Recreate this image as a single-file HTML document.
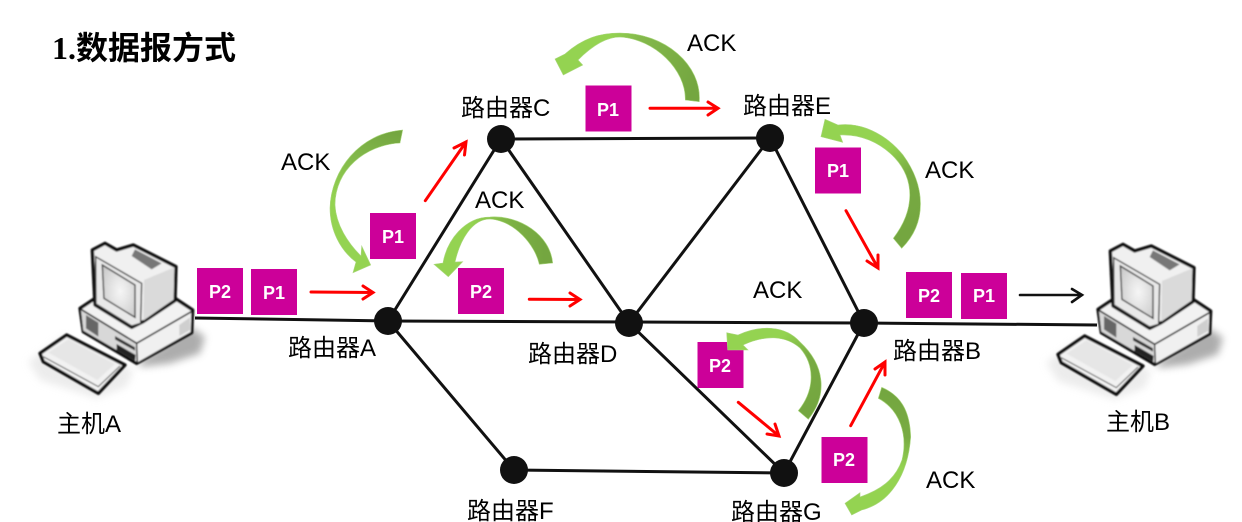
<!DOCTYPE html>
<html><head><meta charset="utf-8"><style>
html,body{margin:0;padding:0;background:#fff}
svg{display:block}
text{font-family:"Liberation Sans","Noto Sans CJK SC",sans-serif;fill:#000}
.l{font-size:24px}
.p{font-size:18px;font-weight:bold;fill:#fff;text-anchor:middle}
.k{stroke:#111;stroke-width:3;fill:none}
.r{stroke:#f00;stroke-width:3;fill:none}
.g{stroke:#a9d67c;stroke-width:.6}
</style></head><body>
<svg width="1242" height="522" viewBox="0 0 1242 522" xmlns="http://www.w3.org/2000/svg">
<defs>
<linearGradient id="g1" gradientUnits="userSpaceOnUse" x1="690" y1="100" x2="560" y2="50"><stop offset="0" stop-color="#74a640"/><stop offset=".5" stop-color="#84b94c"/><stop offset=".7" stop-color="#94d351"/></linearGradient>
<linearGradient id="g2" gradientUnits="userSpaceOnUse" x1="900" y1="240" x2="830" y2="130"><stop offset="0" stop-color="#74a640"/><stop offset=".4" stop-color="#78ab42"/><stop offset=".65" stop-color="#94d351"/></linearGradient>
<linearGradient id="g3" gradientUnits="userSpaceOnUse" x1="805" y1="415" x2="735" y2="335"><stop offset="0" stop-color="#74a640"/><stop offset=".4" stop-color="#78ab42"/><stop offset=".7" stop-color="#94d351"/></linearGradient>
<linearGradient id="g4" gradientUnits="userSpaceOnUse" x1="880" y1="390" x2="860" y2="510"><stop offset="0" stop-color="#74a640"/><stop offset=".35" stop-color="#78ab42"/><stop offset=".6" stop-color="#94d351"/></linearGradient>
<linearGradient id="g5" gradientUnits="userSpaceOnUse" x1="400" y1="135" x2="360" y2="265"><stop offset="0" stop-color="#74a640"/><stop offset=".25" stop-color="#82b84a"/><stop offset=".6" stop-color="#94d351"/></linearGradient>
<linearGradient id="g6" gradientUnits="userSpaceOnUse" x1="545" y1="262" x2="440" y2="262"><stop offset="0" stop-color="#74a640"/><stop offset=".3" stop-color="#7cb044"/><stop offset=".7" stop-color="#94d351"/></linearGradient>
<filter id="bl" x="-30%" y="-30%" width="160%" height="160%"><feGaussianBlur stdDeviation="12"/></filter>
<filter id="sf" x="-5%" y="-5%" width="110%" height="110%"><feGaussianBlur stdDeviation="2"/></filter>
<radialGradient id="scr" cx=".55" cy=".5" r=".7"><stop offset="0" stop-color="#f6f6f6"/><stop offset="1" stop-color="#c8c8c8"/></radialGradient>
<g id="pc">
 <g transform="scale(.3333)">
  <path d="M25,395 L130,320 L340,420 L320,470 L230,505 L60,450Z" fill="#ddd" filter="url(#bl)" opacity=".55"/>
  <path d="M350,400 L510,290 L555,320 L540,370 L450,400 L370,410Z" fill="#999" filter="url(#bl)" opacity=".8"/>
  <g filter="url(#sf)">
  <path d="M180,235 L225,205 L465,205 L518,240 L515,308 L350,400 L190,305Z" fill="#f2f2f2" stroke="#0c0c0c" stroke-width="10" stroke-linejoin="round"/>
  <path d="M183,240 L350,342 L352,396 L190,302Z" fill="#d8d8d8"/>
  <path d="M354,342 L514,244 L512,306 L354,396Z" fill="#f0f0f0"/>
  <path d="M478,285 L510,262 L510,300 L478,318Z" fill="#cfcfcf"/>
  <path d="M198,255 L235,278 L235,320 L198,295Z" fill="#666"/>
  <path d="M285,318 L345,352 L345,362 L285,328Z" fill="#333"/>
  <path d="M290,342 L347,375 L345,392 L290,360Z" fill="#222"/>
  <path d="M183,238 L350,340 L516,244" fill="none" stroke="#222" stroke-width="5"/>
  <path d="M350,340 L352,398" fill="none" stroke="#222" stroke-width="4"/>
  <path d="M217,60 L255,40 L290,60 L340,45 L468,110 L465,212 L370,275 L335,292 L225,225Z" fill="#f0f0f0" stroke="#0c0c0c" stroke-width="10" stroke-linejoin="round"/>
  <path d="M372,150 L463,112 L461,208 L370,272Z" fill="#dadada"/>
  <path d="M345,58 L425,100 L395,118 L335,78Z" fill="#777"/>
  <path d="M227,80 L365,160 L362,280 L335,288 L228,222Z" fill="#e8e8e8" stroke="#333" stroke-width="4"/>
  <path d="M247,105 L345,165 L345,262 L252,205Z" fill="url(#scr)" stroke="#333" stroke-width="4"/>
  <path d="M60,370 L140,315 L315,405 L235,490 L70,395Z" fill="#f2f2f2" stroke="#0c0c0c" stroke-width="10" stroke-linejoin="round"/>
  <path d="M70,380 L235,470 L300,408" fill="none" stroke="#444" stroke-width="3"/>
  <path d="M85,368 L145,328 L285,402 L232,450Z" fill="#e6e6e6"/>
  </g>
 </g>
</g>
</defs>

<use href="#pc" transform="translate(20,230)"/>
<use href="#pc" transform="translate(1038,231)"/>

<text x="52" y="59" style="font-family:'Liberation Serif','Noto Sans CJK SC',serif;font-size:32px;font-weight:bold">1.<tspan style="font-family:'Noto Sans CJK SC',sans-serif">数据报方式</tspan></text>

<path class="k" d="M195,318 L388,321 L864,323 L1097,325"/>
<path class="k" d="M388,321 L501,139 L770,138 L864,323 L784,473 L629,323 L501,139"/>
<path class="k" d="M629,323 L770,138"/>
<path class="k" d="M388,321 L514,470 L784,473"/>
<g fill="#111">
<circle cx="388" cy="321" r="14"/><circle cx="501" cy="139" r="14"/><circle cx="770" cy="138" r="14"/>
<circle cx="629" cy="323" r="14"/><circle cx="864" cy="323" r="14"/><circle cx="514" cy="470" r="14"/><circle cx="784" cy="473" r="14"/>
</g>

<g class="r" stroke-linecap="round">
<path d="M311,292 L373,292.5 M363,286 L373,292.5 L363,299"/>
<path d="M425.3,200.7 L466,142 M454,148 L466,142 L464.5,155"/>
<path d="M529.3,299.3 L580,299.5 M570,293 L580,299.5 L570,306"/>
<path d="M650,108.3 L718,108.3 M708,102 L718,108.3 L708,115"/>
<path d="M846,210.7 L878,268 M867,261 L878,268 L878,255"/>
<path d="M738.3,402.3 L779,436 M767,434 L779,436 L775,424"/>
<path d="M850.7,425.7 L885,362 M875,369 L885,362 L885,375"/>
</g>
<path d="M1020,295 L1082,295 M1072,289 L1082,295 L1072,302" fill="none" stroke="#111" stroke-width="2.6" stroke-linecap="round"/>

<g fill="#cc0099">
<rect x="197" y="268" width="46" height="46"/><rect x="251" y="269" width="46" height="46"/>
<rect x="370" y="213" width="46" height="46"/><rect x="458" y="268" width="46" height="46"/>
<rect x="585.500" y="85.500" width="46" height="46"/><rect x="815" y="147.500" width="46" height="46"/>
<rect x="697.500" y="342" width="46" height="46"/><rect x="821.500" y="437" width="46" height="46"/>
<rect x="906" y="272" width="46" height="46"/><rect x="961" y="273" width="46" height="46"/>
</g>
<text class="p" x="220" y="298">P2</text><text class="p" x="274" y="299">P1</text>
<text class="p" x="393" y="243">P1</text><text class="p" x="481" y="298">P2</text>
<text class="p" x="608" y="116">P1</text><text class="p" x="838" y="177">P1</text>
<text class="p" x="720" y="372">P2</text><text class="p" x="844" y="466">P2</text>
<text class="p" x="929" y="302">P2</text><text class="p" x="984" y="302">P1</text>

<path class="g" style="fill:url(#g5)" d="M402.7,130 L400,143 C365,145 335,170 335,205 C336,225 348,243 361,256 L361.7,246 L370.7,265 L353,272.7 L356,262 C340,250 330,230 330,208 C331,170 360,133 402.7,130Z"/>
<path class="g" style="fill:url(#g6)" d="M552.7,263 L539.3,264.3 C535,245 515,221 490,219 C472,219 460,240 455,262 L462.7,261.7 L448.3,276.7 L434,264.3 L443,263 C447,240 465,217 490,217 C520,215 550,235 552.7,263Z"/>
<path class="g" style="fill:url(#g1)" d="M699.3,101.7 L685.3,100 C686,70 655,39 620,37 C605,37 591,47 578,60 L582.7,65 L563.3,75 L555,59 L565,54 C583,38 600,33 620,33 C665,33 702,65 699.3,101.7Z"/>
<path class="g" style="fill:url(#g2)" d="M901.7,248.3 L893.3,238.3 C915,210 915,180 895,158 C880,142 860,134 840,135 L842.7,142.3 L821,136.7 L825,119.3 L838,125 C860,122 885,133 903,155 C925,185 928,222 901.7,248.3Z"/>
<path class="g" style="fill:url(#g3)" d="M808.3,419.3 L798.3,410.7 C815,390 815,365 800,348 C785,335 765,335 743,345 L748,350 L727.7,350 L726.7,332.7 L738,335 C760,325 785,325 800,342 C825,365 828,395 808.3,419.3Z"/>
<path class="g" style="fill:url(#g4)" d="M881.7,387.3 L878.3,398.3 C900,410 908,435 902,460 C895,480 880,490 860,497 L860,492.7 L845,503.3 L851.7,515 L861.7,510 C890,503 908,475 910.7,437 C910,410 900,395 881.7,387.3Z"/>

<text class="l" x="281" y="170">ACK</text>
<text class="l" x="475" y="208">ACK</text>
<text class="l" x="687" y="51">ACK</text>
<text class="l" x="925" y="178">ACK</text>
<text class="l" x="753" y="298">ACK</text>
<text class="l" x="926" y="488">ACK</text>
<text class="l" x="461" y="116">路由器C</text>
<text class="l" x="743" y="114">路由器E</text>
<text class="l" x="288" y="356">路由器A</text>
<text class="l" x="528" y="362">路由器D</text>
<text class="l" x="893" y="359">路由器B</text>
<text class="l" x="467" y="519">路由器F</text>
<text class="l" x="731" y="520">路由器G</text>
<text class="l" x="57" y="432">主机A</text>
<text class="l" x="1106" y="430">主机B</text>
</svg>
</body></html>
